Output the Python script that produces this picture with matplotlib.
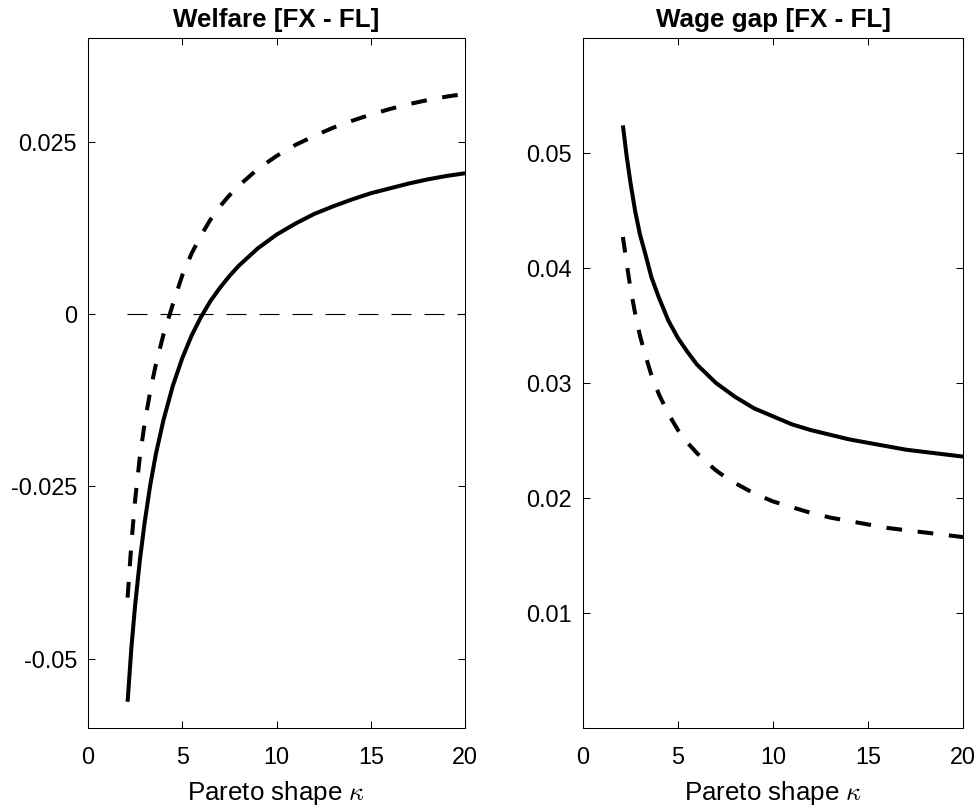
import matplotlib
matplotlib.use("Agg")
import matplotlib.pyplot as plt

# Pareto shape grid used for all curves
kappa = [2.1, 2.3, 2.5, 2.75, 3.0, 3.3, 3.6, 4.0, 4.5, 5.0, 5.5, 6.0, 6.5, 7.0, 7.5, 8.0,
         9.0, 10.0, 11.0, 12.0, 13.0, 14.0, 15.0, 16.0, 17.0, 18.0, 19.0, 20.0]

# Welfare [FX - FL]
welfare_solid = [-0.0562, -0.0484, -0.0422, -0.0357, -0.0303, -0.0248, -0.0203, -0.0154,
                 -0.0104, -0.0064, -0.0031, -0.0004, 0.0019, 0.0038, 0.0055, 0.0070,
                 0.0095, 0.0115, 0.0131, 0.0145, 0.0156, 0.0166, 0.0175, 0.0182,
                 0.0189, 0.0195, 0.0200, 0.0204]
welfare_dash = [-0.0411, -0.0333, -0.0269, -0.0207, -0.0159, -0.0112, -0.0073, -0.0030,
                0.0014, 0.0056, 0.0088, 0.0114, 0.0137, 0.0156, 0.0172, 0.0186,
                0.0210, 0.0229, 0.0245, 0.0258, 0.0270, 0.0280, 0.0289, 0.0297,
                0.0304, 0.0310, 0.0315, 0.0319]

# Wage gap [FX - FL]
wage_solid = [0.0524, 0.0497, 0.0474, 0.0449, 0.0429, 0.0411, 0.0392, 0.0374,
              0.0354, 0.0339, 0.0327, 0.0316, 0.0308, 0.0300, 0.0294, 0.0288,
              0.0278, 0.0271, 0.0264, 0.0259, 0.0255, 0.0251, 0.0248, 0.0245,
              0.0242, 0.0240, 0.0238, 0.0236]
wage_dash = [0.0427, 0.0404, 0.0382, 0.0360, 0.0341, 0.0323, 0.0307, 0.0290,
             0.0273, 0.0259, 0.0248, 0.0239, 0.0231, 0.0224, 0.0218, 0.0213,
             0.0204, 0.0197, 0.0192, 0.0187, 0.0183, 0.0180, 0.0177, 0.0174,
             0.0172, 0.0170, 0.0168, 0.0166]

zero_x = [2.07, 20]
zero_y = [0, 0]

welfare_ticks = [-0.05, -0.025, 0, 0.025]
welfare_labels = ["-0.05", "-0.025", "0", "0.025"]
wage_ticks = [0.01, 0.02, 0.03, 0.04, 0.05]
wage_labels = ["0.01", "0.02", "0.03", "0.04", "0.05"]
x_ticks = [0, 5, 10, 15, 20]

plt.rcParams["font.family"] = ["Liberation Sans", "DejaVu Sans"]
plt.rcParams["mathtext.fontset"] = "cm"

fig = plt.figure(figsize=(9.79, 8.07), dpi=100)
ax1 = fig.add_axes([0.0899, 0.0979, 0.3851, 0.855])
ax2 = fig.add_axes([0.5955, 0.0979, 0.3882, 0.855])

lw = 2.9
dash = (3.9, 3.9)

# Left panel: welfare
ax1.plot(kappa, welfare_solid, color="black", lw=lw, solid_capstyle="butt")
ax1.plot(kappa, welfare_dash, color="black", lw=lw, dashes=dash)
ax1.plot(zero_x, zero_y, color="black", lw=0.8, dashes=(18, 11.7))
ax1.set_ylim(-0.06, 0.04)
ax1.set_yticks(welfare_ticks)
ax1.set_yticklabels(welfare_labels)
ax1.set_title("Welfare [FX - FL]", fontsize=18.7, fontweight="bold", pad=8)

# Right panel: wage gap
ax2.plot(kappa, wage_solid, color="black", lw=lw, solid_capstyle="butt")
ax2.plot(kappa, wage_dash, color="black", lw=lw, dashes=dash)
ax2.set_ylim(0, 0.06)
ax2.set_yticks(wage_ticks)
ax2.set_yticklabels(wage_labels)
ax2.set_title("Wage gap [FX - FL]", fontsize=18.7, fontweight="bold", pad=8)

for ax in (ax1, ax2):
    ax.set_xlim(0, 20)
    ax.set_xticks(x_ticks)
    ax.set_xlabel(r"Pareto shape $\kappa$", fontsize=18.7, labelpad=7)
    ax.tick_params(direction="in", length=5, width=0.75, top=True, right=True, labelsize=16.8)
    ax.tick_params(axis="x", pad=13)
    ax.tick_params(axis="y", pad=8)
    for sp in ax.spines.values():
        sp.set_linewidth(0.75)

fig.savefig("out.png", dpi=100)
